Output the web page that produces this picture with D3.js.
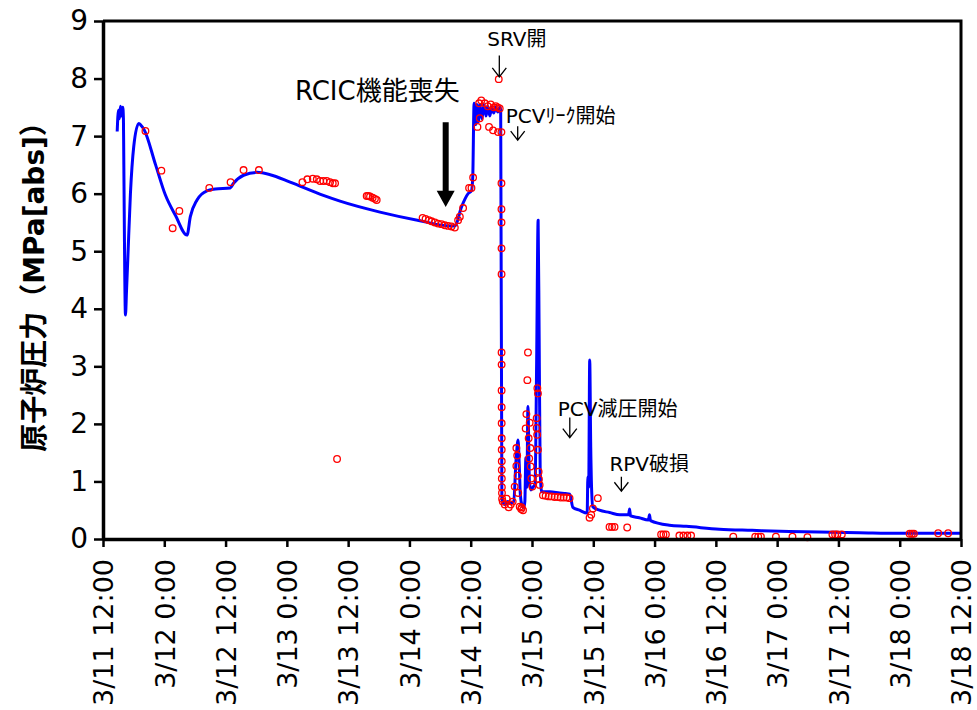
<!DOCTYPE html>
<html>
<head>
<meta charset="utf-8">
<title>原子炉圧力</title>
<script src="https://cdn.jsdelivr.net/npm/d3@7"></script>
<style>
  body { margin: 0; background: #fff; }
  svg { display: block; }
  .tick text { font-family: "DejaVu Sans", Verdana, sans-serif; }
  .note { font-family: "DejaVu Sans", "Noto Sans CJK JP", sans-serif; fill: #000; }
</style>
</head>
<body>
<script>
// time = hours after 3/11 12:00, pressure = MPa[abs]
var lineHours = [2.78, 3.03, 3.22, 3.42, 3.62, 3.87, 4.0, 4.07, 4.40, 4.6, 4.85, 5.37, 6.02, 7.0, 7.5, 8.0,
  10.3, 12.2, 14.2, 16.45, 17.1, 18.41, 20.36, 22.0, 24.92, 25.56, 27.52, 30.14, 32.73, 36.64, 43.15, 46.41,
  54.23, 62.05, 67.91, 68.9, 70.2, 71.49, 72.15, 72.4, 72.66, 73.0, 73.2, 73.5, 73.8, 74.2, 74.6, 75.0, 75.35,
  75.75, 76.1, 76.5, 76.9, 77.3, 77.7, 77.87, 78.1, 78.66, 79.25, 79.64, 80.4, 80.9, 81.27, 81.5, 81.7, 82.0,
  82.4, 82.6, 82.8, 83.0, 83.2, 83.5, 83.8, 84.2, 84.6, 84.9, 85.2, 85.4, 85.6, 85.9, 87.5, 89.4, 90.6, 91.4,
  92.0, 93.3, 94.8, 94.94, 95.1, 95.3, 95.5, 95.7, 95.9, 97.2, 99.2, 101.2, 102.9, 103.1, 103.3, 105.0, 106.8,
  107.0, 107.2, 110.9, 114.2, 120.7, 127.1, 134.4, 140.2, 148.1, 155.9, 167.8];
var linePressure = [7.08, 7.45, 7.30, 7.52, 7.35, 7.50, 7.30, 6.60, 3.89, 4.30, 4.85, 6.00, 6.82, 7.22, 7.18, 7.12,
  6.50, 5.98, 5.62, 5.28, 5.60, 5.89, 6.05, 6.08, 6.10, 6.18, 6.32, 6.37, 6.33, 6.20, 5.97, 5.87,
  5.68, 5.53, 5.44, 5.44, 5.77, 6.00, 6.05, 6.29, 7.57, 7.20, 7.55, 7.25, 7.55, 7.30, 7.55, 7.35, 7.52,
  7.35, 7.50, 7.40, 7.50, 7.42, 7.50, 7.45, 0.70, 0.60, 0.65, 0.62, 0.65, 1.40, 1.72, 1.30, 0.80, 0.60,
  0.55, 0.65, 1.41, 0.90, 2.30, 1.00, 0.85, 0.90, 0.95, 3.00, 5.54, 3.50, 1.20, 0.82, 0.82, 0.80, 0.79, 0.78,
  0.55, 0.50, 0.45, 1.08, 0.90, 3.11, 1.60, 0.80, 0.56, 0.50, 0.46, 0.42, 0.42, 0.52, 0.40, 0.37, 0.33,
  0.42, 0.32, 0.24, 0.22, 0.17, 0.15, 0.13, 0.12, 0.11, 0.10, 0.10];

var measHours = [8.31, 11.43, 14.95, 13.64, 20.81, 24.98, 27.52, 30.53, 39.05, 40.02, 41.08, 41.86, 42.51, 43.15,
  43.81, 44.46, 44.99, 45.44, 45.83, 51.63, 51.94, 52.28, 52.80, 53.25, 53.59,
  62.58, 63.16, 63.81, 64.33, 64.98, 65.62, 66.29, 66.93, 67.58, 68.24, 68.89, 69.53, 69.87, 70.51,
  71.68, 72.15, 72.47, 73.32, 73.77, 73.64, 74.07, 74.75, 75.34, 75.92, 76.51, 76.90, 77.29, 77.68,
  75.59, 76.37, 77.35, 78.01, 77.49,
  78.02, 78.02, 78.03, 78.03, 78.04, 78.04, 78.05, 78.05, 78.06, 78.06, 78.07, 78.07, 78.08, 78.08, 78.09, 78.1, 78.12, 78.14,
  78.27, 78.66, 79.05, 79.44, 79.83, 80.22, 80.61, 80.94, 80.94, 81.10, 81.20, 81.30, 81.59, 81.88, 81.98, 82.24,
  82.76, 82.90, 83.09, 83.21, 83.35, 83.45, 83.55, 83.68, 83.74, 83.88, 84.07,
  84.91, 84.91, 85.01, 85.05, 85.17, 85.17, 85.30, 85.36, 85.50,
  86.14, 86.67, 87.26, 87.84, 88.43, 89.02, 89.60, 90.19, 90.77, 91.36,
  95.27, 95.60, 95.92, 96.89, 99.18, 99.67, 100.16, 102.64, 109.28, 109.73, 110.22,
  112.86, 113.64, 114.42, 115.15, 123.41, 127.71, 128.30, 128.82, 131.76, 135.00, 137.93,
  142.82, 143.35, 143.80, 144.66, 157.94, 158.39, 158.78, 163.53, 165.48];
var measPressure = [7.09, 6.40, 5.70, 5.40, 6.10, 6.20, 6.41, 6.41, 6.20, 6.25, 6.26, 6.25, 6.22, 6.22,
  6.22, 6.20, 6.18, 6.18, 1.39, 5.96, 5.96, 5.95, 5.93, 5.91, 5.89,
  5.58, 5.56, 5.54, 5.52, 5.50, 5.48, 5.47, 5.45, 5.44, 5.43, 5.41, 5.54, 5.60, 5.75,
  6.10, 6.10, 6.28, 7.16, 7.31, 7.57, 7.62, 7.57, 7.52, 7.55, 7.50, 7.52, 7.50, 7.48,
  7.16, 7.10, 7.07, 7.07, 7.99,
  6.18, 5.73, 5.50, 5.05, 4.60, 3.24, 3.03, 2.58, 2.29, 2.01, 1.75, 1.55, 1.35, 1.20, 1.05, 0.90, 0.80, 0.70,
  0.65, 0.60, 0.70, 0.55, 0.60, 0.65, 0.91, 1.27, 1.58, 1.45, 1.10, 0.80, 0.56, 0.52, 0.55, 0.50,
  1.92, 2.17, 2.76, 3.24, 1.75, 1.40, 2.02, 1.58, 1.26, 1.05, 0.91,
  2.10, 1.93, 1.81, 2.62, 1.55, 2.53, 1.17, 1.04, 0.94,
  0.76, 0.75, 0.74, 0.74, 0.73, 0.73, 0.72, 0.72, 0.72, 0.71,
  0.37, 0.42, 0.53, 0.71, 0.21, 0.21, 0.21, 0.20, 0.08, 0.08, 0.08,
  0.06, 0.06, 0.06, 0.06, 0.04, 0.04, 0.04, 0.04, 0.04, 0.04, 0.03,
  0.08, 0.08, 0.08, 0.08, 0.09, 0.09, 0.09, 0.10, 0.10];

var tickLabels = ["3/11 12:00", "3/12 0:00", "3/12 12:00", "3/13 0:00", "3/13 12:00", "3/14 0:00",
  "3/14 12:00", "3/15 0:00", "3/15 12:00", "3/16 0:00", "3/16 12:00", "3/17 0:00", "3/17 12:00",
  "3/18 0:00", "3/18 12:00"];
var yTicks = [0, 1, 2, 3, 4, 5, 6, 7, 8, 9];

// event labels: text, hours, pressure at text baseline, arrow span
var events = [
  { label: "SRV開", hours: 77.6, y: 8.57, arrowTop: 8.4, arrowBottom: 8.03 },
  { label: "PCVﾘｰｸ開始", hours: 81.2, y: 7.22, arrowTop: 7.17, arrowBottom: 6.93 },
  { label: "PCV減圧開始", hours: 91.4, y: 2.14, arrowTop: 2.11, arrowBottom: 1.76 },
  { label: "RPV破損", hours: 101.5, y: 1.18, arrowTop: 1.08, arrowBottom: 0.83 }
];

var W = 977, H = 710;
var margin = { top: 21, right: 16, bottom: 171, left: 103 };
var width = W - margin.left - margin.right,
    height = H - margin.top - margin.bottom;

var t0 = new Date(2011, 2, 11, 12, 0);
function toDate(h) { return new Date(t0.getTime() + h * 3600 * 1000); }

var x = d3.scaleTime().domain([t0, toDate(168)]).range([0, width]);
var y = d3.scaleLinear().domain([0, 9]).range([height, 0]);

var svg = d3.select("body").append("svg")
    .attr("width", W)
    .attr("height", H);
var g = svg.append("g")
    .attr("transform", "translate(" + margin.left + "," + margin.top + ")");

var lineData = lineHours.map(function (h, i) { return { t: toDate(h), p: linePressure[i] }; });
var measData = measHours.map(function (h, i) { return { t: toDate(h), p: measPressure[i] }; });

var valueline = d3.line()
    .curve(d3.curveMonotoneX)
    .x(function (d) { return x(d.t); })
    .y(function (d) { return y(d.p); });

// blue line
g.append("path")
    .datum(lineData)
    .attr("fill", "none")
    .attr("stroke", "#0000ff")
    .attr("stroke-width", 3)
    .attr("stroke-linejoin", "round")
    .attr("d", valueline);

// red measured points
g.selectAll("circle.meas")
    .data(measData)
    .enter().append("circle")
    .attr("class", "meas")
    .attr("cx", function (d) { return x(d.t); })
    .attr("cy", function (d) { return y(d.p); })
    .attr("r", 3.3)
    .attr("fill", "none")
    .attr("stroke", "#ff0000")
    .attr("stroke-width", 1.3);

// frame (top and right)
g.append("path")
    .attr("d", "M0,0H" + width + "V" + height)
    .attr("fill", "none")
    .attr("stroke", "#000")
    .attr("stroke-width", 3);

// axes
var xAxis = g.append("g")
    .attr("transform", "translate(0," + height + ")")
    .call(d3.axisBottom(x)
        .tickValues(tickLabels.map(function (d, i) { return toDate(i * 12); }))
        .tickFormat(function (d, i) { return tickLabels[i]; })
        .tickSize(8)
        .tickSizeOuter(0));
xAxis.select(".domain").attr("stroke-width", 3.5);
xAxis.selectAll(".tick line").attr("stroke-width", 2.5);
xAxis.selectAll(".tick text")
    .attr("font-size", 27)
    .attr("fill", "#000")
    .attr("transform", "rotate(-90)")
    .attr("text-anchor", "end")
    .attr("x", -20)
    .attr("y", 0)
    .attr("dy", "0.36em");

var yAxis = g.append("g")
    .call(d3.axisLeft(y)
        .tickValues(yTicks)
        .tickSize(9)
        .tickSizeOuter(0));
yAxis.select(".domain").attr("stroke-width", 3.5);
yAxis.selectAll(".tick line").attr("stroke-width", 2.5);
yAxis.selectAll(".tick text")
    .attr("font-size", 28)
    .attr("fill", "#000")
    .attr("x", -15);

svg.append("text")
    .attr("transform", "translate(44," + (margin.top + height / 2) + ") rotate(-90)")
    .attr("text-anchor", "middle")
    .attr("font-family", "'DejaVu Sans', 'Noto Sans CJK JP', sans-serif")
    .attr("font-weight", "bold")
    .attr("font-size", 28)
    .text("原子炉圧力（MPa[abs]）");

// RCIC label with big arrow
var rcicX = x(toDate(67.1));
g.append("text")
    .attr("class", "note")
    .attr("x", rcicX + 14)
    .attr("y", y(7.62))
    .attr("text-anchor", "end")
    .attr("font-size", 26)
    .attr("font-family", "'Noto Sans CJK JP', sans-serif")
    .text("RCIC機能喪失");
g.append("path")
    .attr("d", "M" + (rcicX - 3) + "," + y(7.24) + "V" + y(6.05) + "H" + (rcicX - 9) +
        "L" + rcicX + "," + y(5.77) + "L" + (rcicX + 9) + "," + y(6.05) + "H" + (rcicX + 3) + "V" + y(7.24) + "Z")
    .attr("fill", "#000");

// other event labels with thin arrows
events.forEach(function (e) {
    var ex = x(toDate(e.hours));
    g.append("text")
        .attr("class", "note")
        .attr("x", ex - 12)
        .attr("y", y(e.y))
        .attr("font-size", 20)
        .text(e.label);
    var yt = y(e.arrowTop), yb = y(e.arrowBottom);
    g.append("path")
        .attr("d", "M" + ex + "," + yt + "V" + yb + "M" + (ex - 7) + "," + (yb - 9) + "L" + ex + "," + yb + "L" + (ex + 7) + "," + (yb - 9))
        .attr("fill", "none")
        .attr("stroke", "#000")
        .attr("stroke-width", 1.3);
});
</script>
</body>
</html>
